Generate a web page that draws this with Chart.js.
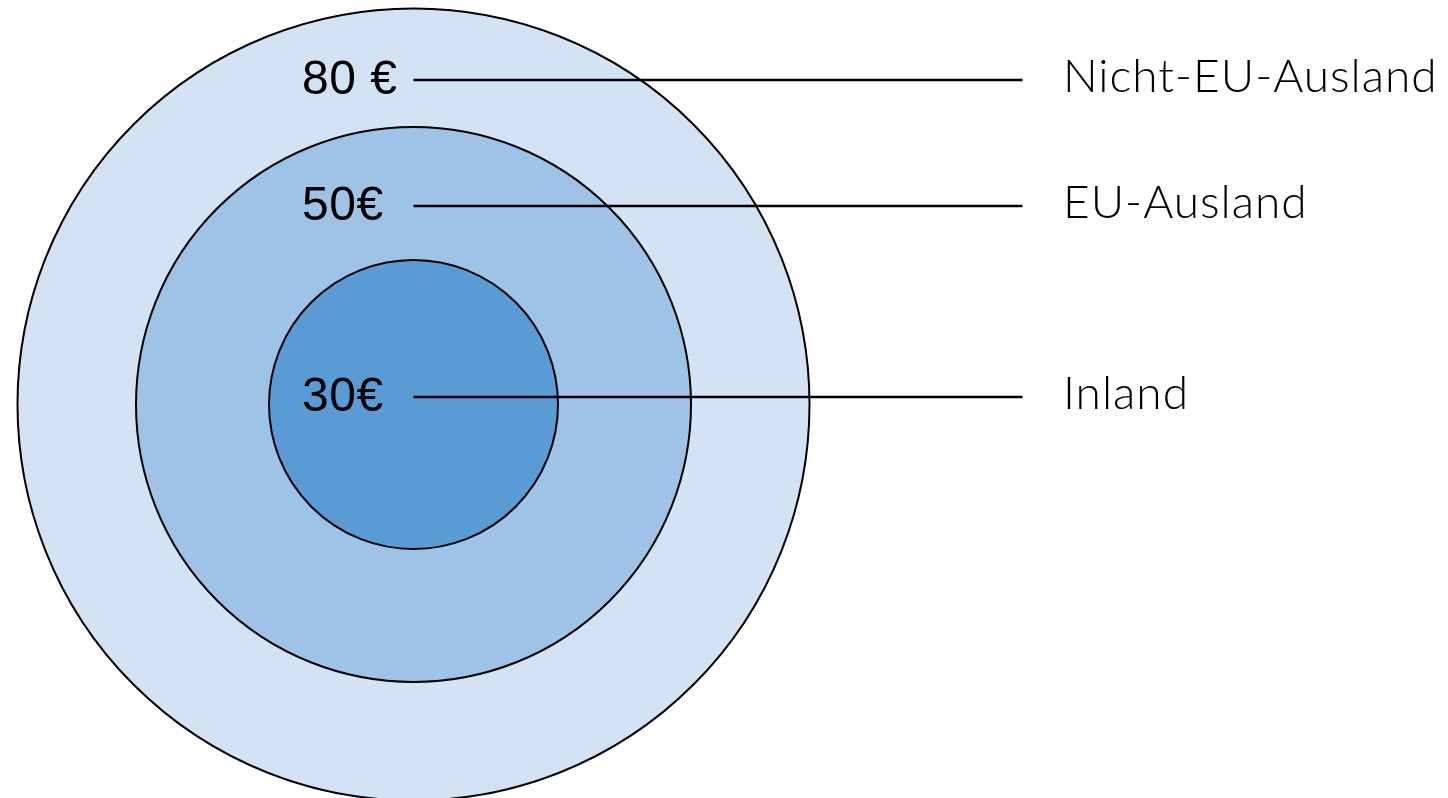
<!DOCTYPE html>
<html lang="de">
<head>
<meta charset="utf-8">
<title>Porto nach Zielregion</title>
<script src="https://cdn.jsdelivr.net/npm/chart.js@4.4.1/dist/chart.umd.min.js"></script>
<style>
  html, body { margin: 0; padding: 0; background: #fff; overflow: hidden; }
  #chart { display: block; }
</style>
</head>
<body>
<canvas id="chart" width="1448" height="798"></canvas>
<script>
// data: outer ring first so it sits behind the smaller ones
const regions = ['Nicht-EU-Ausland', 'EU-Ausland', 'Inland'];
const fees = [80, 50, 30];
const feeLabels = ['80 €', '50€', '30€'];

// diagram layout, in axis units (1 unit = 100px), rings centred on 0/0
const ringRadius = [3.96, 2.775, 1.445];
const ringColors = ['#d3e3f3', '#9fc3e6', '#5b9bd5'];
const leaderY = [3.245, 1.985, 0.075];
const leaderEnd = 6.09;
const feeTextX = -1.115;
const regionTextX = 6.495;

const leaderSets = regions.map((name, i) => ({
  type: 'line',
  label: name,
  order: 1,
  data: [{ x: 0, y: leaderY[i] }, { x: leaderEnd, y: leaderY[i] }],
  borderColor: '#000',
  borderWidth: 2.5,
  pointRadius: 0,
  fill: false,
}));

const labelPlugin = {
  id: 'ringLabels',
  afterDatasetsDraw(chart) {
    const { ctx, scales: { x, y } } = chart;
    ctx.save();
    ctx.fillStyle = '#000';
    ctx.textBaseline = 'alphabetic';
    ctx.textAlign = 'left';
    regions.forEach((name, i) => {
      const py = y.getPixelForValue(leaderY[i]);
      ctx.letterSpacing = '0.5px';
      ctx.font = '400 48px "Liberation Sans", Arial, sans-serif';
      ctx.fillText(feeLabels[i], x.getPixelForValue(feeTextX), py + 14);
      ctx.letterSpacing = '1px';
      ctx.font = '300 46px Lato, "Open Sans", sans-serif';
      ctx.fillText(name, x.getPixelForValue(regionTextX), py + 12);
    });
    ctx.restore();
  },
};

const chart = new Chart(document.getElementById('chart'), {
  type: 'bubble',
  data: {
    datasets: [
      ...leaderSets,
      {
        type: 'bubble',
        label: 'Porto',
        order: 2,
        data: fees.map(fee => ({ x: 0, y: 0, r: 1, fee })),
        backgroundColor: ringColors,
        borderColor: '#000',
        borderWidth: 2,
        clip: false,
      },
    ],
  },
  options: {
    responsive: false,
    animation: false,
    events: [],
    layout: { padding: 0, autoPadding: false },
    scales: {
      x: { type: 'linear', min: -4.135, max: 10.345, display: false },
      y: { type: 'linear', min: -3.935, max: 4.045, display: false },
    },
    plugins: {
      legend: { display: false },
      tooltip: { enabled: false },
    },
  },
  plugins: [labelPlugin],
});

// bubble radius is in pixels, so convert the ring sizes through the x scale once it is laid out
const xs = chart.scales.x;
const rings = chart.data.datasets[chart.data.datasets.length - 1];
rings.data.forEach((pt, i) => {
  pt.r = xs.getPixelForValue(ringRadius[i]) - xs.getPixelForValue(0);
});
chart.update();
</script>
</body>
</html>
